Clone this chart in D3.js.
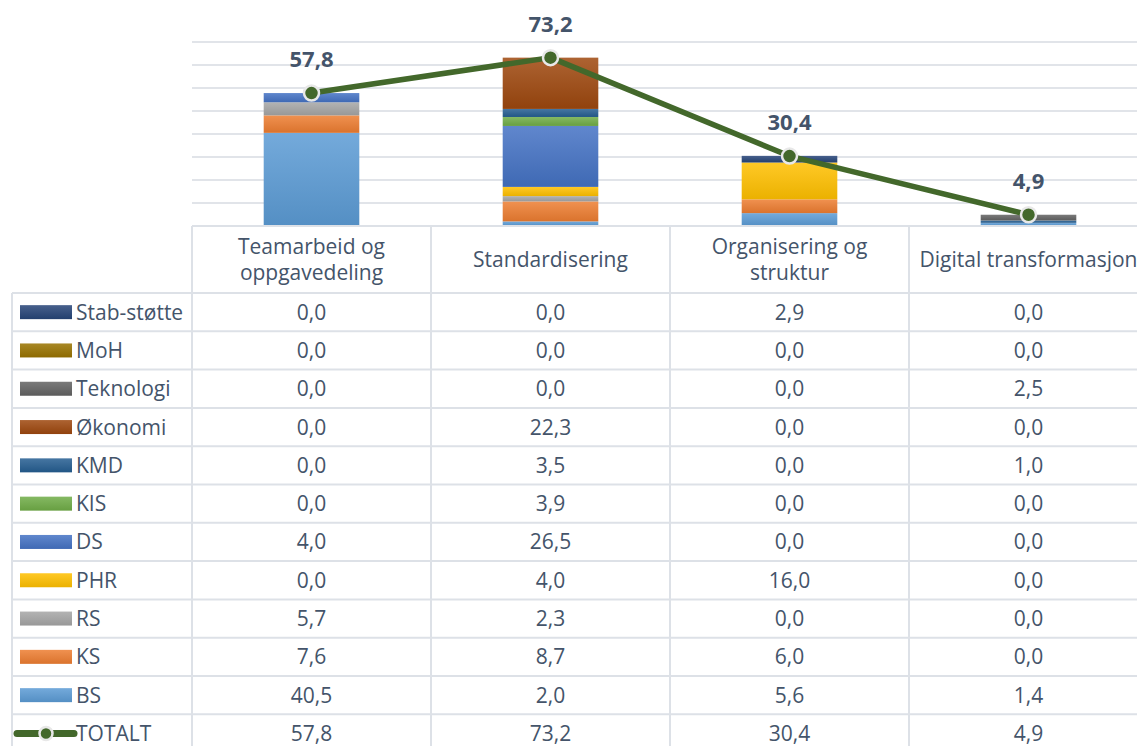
<!DOCTYPE html>
<html>
<head>
<meta charset="utf-8">
<script src="https://cdn.jsdelivr.net/npm/d3@7"></script>
<style>
  html, body { margin: 0; padding: 0; background: #fff; overflow: hidden; }
  svg { display: block; font-family: "Open Sans", sans-serif; }
</style>
</head>
<body>
<svg id="chart" width="1137" height="746"></svg>
<script>
// ---- data ----
var categories = ["Teamarbeid og oppgavedeling", "Standardisering", "Organisering og struktur", "Digital transformasjon"];
var headerLines = [["Teamarbeid og", "oppgavedeling"], ["Standardisering"], ["Organisering og", "struktur"], ["Digital transformasjon"]];

var seriesNames = ["Stab-støtte", "MoH", "Teknologi", "Økonomi", "KMD", "KIS", "DS", "PHR", "RS", "KS", "BS"];
var stabStotte = [0.0, 0.0, 2.9, 0.0];
var moh        = [0.0, 0.0, 0.0, 0.0];
var teknologi  = [0.0, 0.0, 0.0, 2.5];
var okonomi    = [0.0, 22.3, 0.0, 0.0];
var kmd        = [0.0, 3.5, 0.0, 1.0];
var kis        = [0.0, 3.9, 0.0, 0.0];
var ds         = [4.0, 26.5, 0.0, 0.0];
var phr        = [0.0, 4.0, 16.0, 0.0];
var rs         = [5.7, 2.3, 0.0, 0.0];
var ks         = [7.6, 8.7, 6.0, 0.0];
var bs         = [40.5, 2.0, 5.6, 1.4];
var totalt     = [57.8, 73.2, 30.4, 4.9];
var yTicks = [0, 10, 20, 30, 40, 50, 60, 70, 80];

var seriesValues = [stabStotte, moh, teknologi, okonomi, kmd, kis, ds, phr, rs, ks, bs];
var seriesColors = ["#264478", "#997300", "#636363", "#9E480E", "#255E91", "#70AD47", "#4472C4", "#FFC000", "#A5A5A5", "#ED7D31", "#5B9BD5"];
var lineColor = "#43682B";
var textColor = "#44546A";

// ---- layout ----
var svg = d3.select("#chart"),
    plotLeft = 192,
    colW = 239,
    baseY = 226,
    rowTop = 293,
    rowH = 38.3,
    tableLeft = 12,
    fs = 21,
    fmt = function (v) { return d3.format(".1f")(v).replace(".", ","); };

var x = d3.scaleBand().domain(categories).range([plotLeft, plotLeft + colW * 4]).padding(0);
var y = d3.scaleLinear().domain([0, 80]).range([baseY, 42]);
var barW = x.bandwidth() * 0.4;

// gradients like excel fills
var defs = svg.append("defs");
seriesColors.forEach(function (c, i) {
    var g = defs.append("linearGradient").attr("id", "grad" + i)
        .attr("x1", 0).attr("y1", 0).attr("x2", 0).attr("y2", 1);
    g.append("stop").attr("offset", "0%").attr("stop-color", d3.interpolateRgb(c, "#fff")(0.15));
    g.append("stop").attr("offset", "100%").attr("stop-color", d3.interpolateRgb(c, "#000")(0.08));
});

// gridlines
svg.append("g").selectAll("line")
    .data(yTicks.filter(function (t) { return t > 0; }))
    .join("line")
    .attr("x1", plotLeft).attr("x2", 1137)
    .attr("y1", function (d) { return y(d); }).attr("y2", function (d) { return y(d); })
    .attr("stroke", "#E1E4E9").attr("stroke-width", 2);

// stacked bars (BS at bottom)
var table = categories.map(function (c, j) {
    var row = { cat: c };
    seriesNames.forEach(function (n, i) { row[n] = seriesValues[i][j]; });
    return row;
});
var stackKeys = seriesNames.slice().reverse();
var stacked = d3.stack().keys(stackKeys)(table);

svg.append("g").selectAll("g")
    .data(stacked)
    .join("g")
    .attr("fill", function (d) { return "url(#grad" + seriesNames.indexOf(d.key) + ")"; })
    .selectAll("rect")
    .data(function (d) { return d; })
    .join("rect")
    .attr("x", function (d) { return x(d.data.cat) + (x.bandwidth() - barW) / 2; })
    .attr("width", barW)
    .attr("y", function (d) { return y(d[1]); })
    .attr("height", function (d) { return y(d[0]) - y(d[1]); });

// total line
var line = d3.line()
    .x(function (d, j) { return x(categories[j]) + x.bandwidth() / 2; })
    .y(function (d) { return y(d); });

svg.append("path")
    .datum(totalt)
    .attr("d", line)
    .attr("fill", "none")
    .attr("stroke", lineColor)
    .attr("stroke-width", 5.5)
    .attr("stroke-linejoin", "round");

svg.append("g").selectAll("circle")
    .data(totalt)
    .join("circle")
    .attr("cx", function (d, j) { return x(categories[j]) + x.bandwidth() / 2; })
    .attr("cy", function (d) { return y(d); })
    .attr("r", 7.5)
    .attr("fill", lineColor)
    .attr("stroke", "#E8E8E8")
    .attr("stroke-width", 2.5);

svg.append("g").selectAll("text")
    .data(totalt)
    .join("text")
    .attr("x", function (d, j) { return x(categories[j]) + x.bandwidth() / 2; })
    .attr("y", function (d) { return y(d) - 26; })
    .attr("text-anchor", "middle")
    .attr("font-size", 22)
    .attr("font-weight", "bold")
    .attr("fill", textColor)
    .text(function (d) { return fmt(d); });

// ---- data table ----
var nRows = seriesNames.length + 1;
var gridColor = "#DDE1E7";
var tbl = svg.append("g");

// horizontal lines
tbl.append("line")
    .attr("x1", plotLeft).attr("x2", 1137).attr("y1", baseY).attr("y2", baseY)
    .attr("stroke", gridColor).attr("stroke-width", 2);
tbl.selectAll("line.h")
    .data(d3.range(nRows + 1))
    .join("line").attr("class", "h")
    .attr("x1", tableLeft).attr("x2", 1137)
    .attr("y1", function (i) { return rowTop + i * rowH; })
    .attr("y2", function (i) { return rowTop + i * rowH; })
    .attr("stroke", gridColor).attr("stroke-width", 2);

// vertical lines
tbl.selectAll("line.v")
    .data(categories)
    .join("line").attr("class", "v")
    .attr("x1", function (d) { return x(d); }).attr("x2", function (d) { return x(d); })
    .attr("y1", baseY).attr("y2", 746)
    .attr("stroke", gridColor).attr("stroke-width", 2);
tbl.append("line")
    .attr("x1", tableLeft).attr("x2", tableLeft).attr("y1", rowTop).attr("y2", 746)
    .attr("stroke", gridColor).attr("stroke-width", 2);

// header
var hdr = tbl.selectAll("text.hdr")
    .data(categories)
    .join("text").attr("class", "hdr")
    .attr("text-anchor", "middle")
    .attr("font-size", fs)
    .attr("fill", textColor);
hdr.each(function (d, j) {
    var lines = headerLines[j];
    var cy = (baseY + rowTop) / 2 + 7 - (lines.length - 1) * 13;
    d3.select(this).selectAll("tspan")
        .data(lines)
        .join("tspan")
        .attr("x", x(d) + x.bandwidth() / 2)
        .attr("y", function (l, k) { return cy + k * 26; })
        .text(function (l) { return l; });
});

// rows
var rowNames = seriesNames.concat(["TOTALT"]);
var rowVals = seriesValues.concat([totalt]);
var rows = tbl.selectAll("g.row")
    .data(rowNames)
    .join("g").attr("class", "row")
    .attr("transform", function (d, i) { return "translate(0," + (rowTop + i * rowH + rowH / 2) + ")"; });

rows.each(function (name, i) {
    var g = d3.select(this);
    if (i < seriesNames.length) {
        g.append("rect")
            .attr("x", 20).attr("y", -7).attr("width", 52).attr("height", 14)
            .attr("fill", "url(#grad" + i + ")");
    } else {
        g.append("line")
            .attr("x1", 17).attr("x2", 74).attr("y1", 0).attr("y2", 0)
            .attr("stroke", lineColor).attr("stroke-width", 7).attr("stroke-linecap", "round");
        g.append("circle")
            .attr("cx", 46).attr("cy", 0).attr("r", 6.5)
            .attr("fill", lineColor).attr("stroke", "#E8E8E8").attr("stroke-width", 2.5);
    }
    g.append("text")
        .attr("x", 76).attr("y", 7.5)
        .attr("font-size", fs)
        .attr("fill", textColor)
        .text(name);
    g.selectAll("text.val")
        .data(rowVals[i])
        .join("text").attr("class", "val")
        .attr("x", function (v, j) { return x(categories[j]) + x.bandwidth() / 2; })
        .attr("y", 7.5)
        .attr("text-anchor", "middle")
        .attr("font-size", fs)
        .attr("fill", textColor)
        .text(function (v) { return fmt(v); });
});
</script>
</body>
</html>
